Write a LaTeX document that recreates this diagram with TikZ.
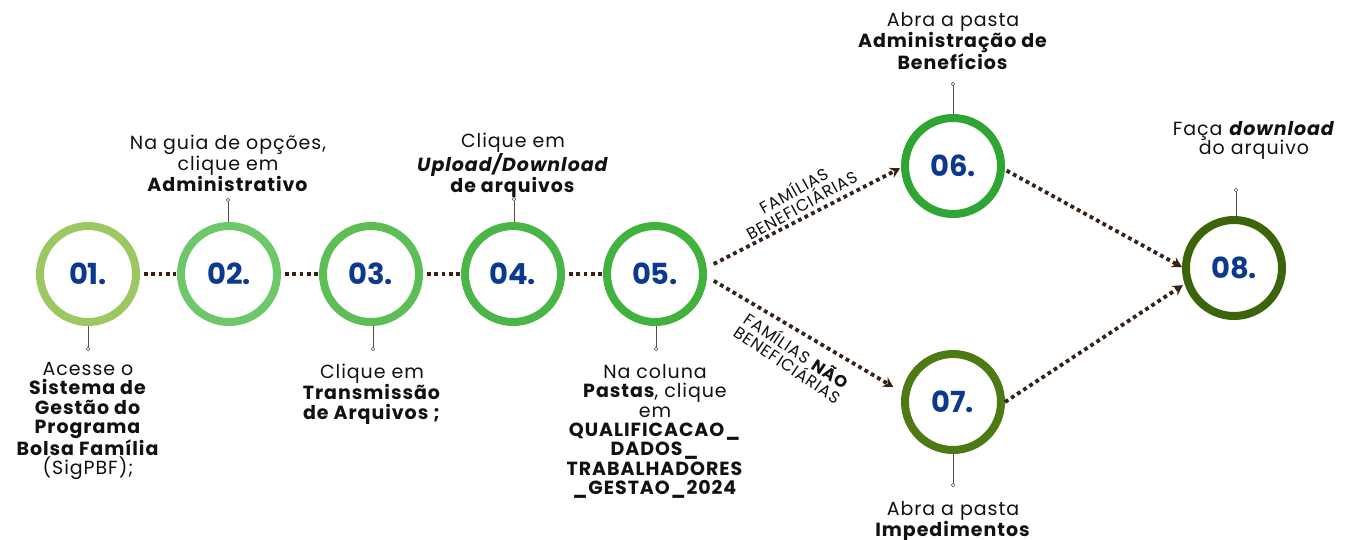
\documentclass[tikz,border=0pt]{standalone}
\usepackage{fontspec}
\setmainfont{Poppins}[LetterSpace=5]
\newfontfamily\numfont{Poppins}[LetterSpace=-1]
\newfontfamily\lblfont{Poppins}[LetterSpace=5]
\usetikzlibrary{arrows.meta}
\definecolor{cA}{RGB}{156,199,99}
\definecolor{cB}{RGB}{110,200,106}
\definecolor{cC}{RGB}{92,190,85}
\definecolor{cD}{RGB}{75,182,72}
\definecolor{cE}{RGB}{65,178,61}
\definecolor{cF}{RGB}{47,165,52}
\definecolor{cG}{RGB}{78,122,21}
\definecolor{cH}{RGB}{60,100,10}
\definecolor{numblue}{RGB}{11,57,143}
\definecolor{dotbrown}{RGB}{56,34,22}
\definecolor{leadbrown}{RGB}{92,74,64}
\definecolor{txt}{RGB}{17,17,17}
\begin{document}
\begin{tikzpicture}[x=1pt,y=-1pt,
  ring/.style={circle, draw=#1, line width=8pt, minimum size=96pt, inner sep=0pt,
    font=\numfont\bfseries\fontsize{29}{29}\selectfont, text=numblue},
  dotline/.style={draw=dotbrown, line width=3.8pt, dash pattern=on 3.8pt off 3.5pt},
  arrowed/.style={-{Stealth[length=10pt,width=11pt,inset=3.5pt]}},
  leader/.style={draw=leadbrown, line width=0.9pt},
  knob/.style={circle, draw=leadbrown, fill=white, line width=0.6pt, inner sep=0pt, minimum size=3.6pt},
  desc/.style={align=center, anchor=north, inner sep=0pt, text=txt, font=\fontsize{19}{19.4}\selectfont},
  lbl/.style={align=center, inner sep=0pt, text=txt, font=\lblfont\fontsize{16.5}{16.5}\selectfont}]
\useasboundingbox (0,0) rectangle (1353,539);
\fill[white] (0,0) rectangle (1353,539);

% circles
\node[ring=cA] (n1) at (88,274) {01.};
\node[ring=cB] (n2) at (229,274) {02.};
\node[ring=cC] (n3) at (371,274) {03.};
\node[ring=cD] (n4) at (513,274) {04.};
\node[ring=cE] (n5) at (655,274) {05.};
\node[ring=cF] (n6) at (953,166) {06.};
\node[ring=cG] (n7) at (953,402) {07.};
\node[ring=cH] (n8) at (1234,268) {08.};

% horizontal dotted connectors
\draw[dotline, shorten <=4pt, shorten >=1pt] (n1.east) -- (n2.west);
\draw[dotline, shorten <=4pt, shorten >=1pt] (n2.east) -- (n3.west);
\draw[dotline, shorten <=4pt, shorten >=1pt] (n3.east) -- (n4.west);
\draw[dotline, shorten <=4pt, shorten >=1pt] (n4.east) -- (n5.west);

% branches
\draw[dotline, arrowed, shorten <=8pt, shorten >=1pt] (n5.7) -- (n6.182);
\draw[dotline, arrowed, shorten <=8pt, shorten >=10pt] (n5.-3) -- (n7.169);
\draw[dotline, arrowed, shorten <=2pt, shorten >=0pt] (n6.-4) -- (n8.179);
\draw[dotline, arrowed, shorten <=0pt, shorten >=2pt] (n7.0) -- (n8.-162);

% branch labels
\node[lbl, rotate=29] (la) at (797,197) {FAMÍLIAS\\BENEFICIÁRIAS};
\node[lbl, rotate=-34] (lb) at (793,357) {FAMÍLIAS \textbf{NÃO}\\BENEFICIÁRIAS};

% leaders
\node[knob] (k1) at (88,349) {};
\node[knob] (k2) at (228,200) {};
\node[knob] (k3) at (373,349) {};
\node[knob] (k4) at (514,199) {};
\node[knob] (k5) at (656,349) {};
\node[knob] (k6) at (953,84) {};
\node[knob] (k7) at (953,485) {};
\node[knob] (k8) at (1236,190) {};
\draw[leader] (k1.north) -- (k1 |- n1.south);
\draw[leader] (k2.south) -- (k2 |- n2.north);
\draw[leader] (k3.north) -- (k3 |- n3.south);
\draw[leader] (k4.south) -- (k4 |- n4.north);
\draw[leader] (k5.north) -- (k5 |- n5.south);
\draw[leader] (k6.south) -- (k6 |- n6.north);
\draw[leader] (k7.north) -- (k7 |- n7.south);
\draw[leader] (k8.south) -- (k8 |- n8.north);

% descriptions
\node[desc] (t1) at (88,362) {Acesse o\\ \textbf{Sistema de}\\ \textbf{Gestão do}\\ \textbf{Programa}\\ \textbf{Bolsa Família}\\ (SigPBF);};
\node[desc] (t2) at (228,135) {Na guia de opções,\\ clique em\\ \textbf{Administrativo}};
\node[desc] (t3) at (372,364) {Clique em\\ \textbf{Transmissão}\\ \textbf{de Arquivos ;}};
\node[desc] (t4) at (513,133) {Clique em\\ \textbf{\textit{Upload/Download}}\\ \textbf{de arquivos}};
\node[desc] (t5) at (655,364) {Na coluna\\ \textbf{Pastas}, clique\\ em\\ \textbf{QUALIFICACAO\_}\\ \textbf{DADOS\_}\\ \textbf{TRABALHADORES}\\ \textbf{\_GESTAO\_2024}};
\node[desc] (t6) at (953,12) {Abra a pasta\\ \textbf{Administração de}\\ \textbf{Benefícios}};
\node[desc] (t7) at (953,501) {Abra a pasta\\ \textbf{Impedimentos}};
\node[desc] (t8) at (1254,121) {Faça \textbf{\textit{download}}\\ do arquivo};
\end{tikzpicture}
\end{document}
